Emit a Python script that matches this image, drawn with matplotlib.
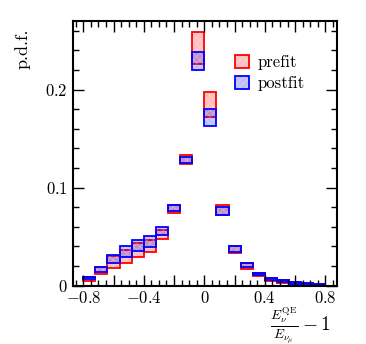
import numpy as np
import matplotlib
matplotlib.use("Agg")
import matplotlib.pyplot as plt
from matplotlib.ticker import MultipleLocator, FuncFormatter

plt.rcParams["font.family"] = "serif"
plt.rcParams["font.serif"] = ["cmr10", "DejaVu Serif"]
plt.rcParams["mathtext.fontset"] = "cm"
plt.rcParams["axes.unicode_minus"] = False
plt.rcParams["hatch.linewidth"] = 0.5

# bin centres of E_QE/E - 1 (bin width 0.08)
centers = [-0.76, -0.68, -0.60, -0.52, -0.44, -0.36, -0.28, -0.20, -0.12, -0.04,
           0.04, 0.12, 0.20, 0.28, 0.36, 0.44, 0.52, 0.60, 0.68, 0.76]
# band low / high edges
prefit_lo = [0.005, 0.0118, 0.0176, 0.0233, 0.0289, 0.0346, 0.0473, 0.074, 0.124, 0.226,
             0.172, 0.0715, 0.033, 0.0172, 0.0097, 0.005, 0.003, 0.0015, 0.001, 0.0005]
prefit_hi = [0.009, 0.0192, 0.0302, 0.0363, 0.0432, 0.0466, 0.0568, 0.0817, 0.133, 0.259,
             0.198, 0.082, 0.040, 0.0227, 0.013, 0.008, 0.0056, 0.0036, 0.0025, 0.0015]
postfit_lo = [0.0065, 0.0141, 0.0227, 0.0295, 0.0356, 0.0397, 0.0517, 0.0757, 0.125, 0.220,
              0.163, 0.0720, 0.0346, 0.0185, 0.0105, 0.0055, 0.0035, 0.0018, 0.0012, 0.0006]
postfit_hi = [0.009, 0.0192, 0.0312, 0.0404, 0.0466, 0.0507, 0.0596, 0.0817, 0.131, 0.238,
              0.180, 0.080, 0.040, 0.0227, 0.013, 0.0078, 0.0054, 0.0034, 0.0023, 0.0014]
width = 0.08

fig = plt.figure(figsize=(3.66, 3.44), dpi=100)
ax = fig.add_axes([0.1986, 0.17, 0.7214, 0.769])


def band(lo, hi, color):
    lo = np.array(lo)
    hi = np.array(hi)
    fill = ax.bar(centers, hi - lo, bottom=lo, width=width, color=color, alpha=0.25,
                  edgecolor="white", hatch="xxxxx", linewidth=0)
    edge = ax.bar(centers, hi - lo, bottom=lo, width=width, fill=False,
                  edgecolor=color, linewidth=1.3)
    return (fill[0], edge[0])


h_pre = band(prefit_lo, prefit_hi, "#ff0000")
h_post = band(postfit_lo, postfit_hi, "#0000ff")

ax.set_xlim(-0.87, 0.875)
ax.set_ylim(0, 0.27)

ax.xaxis.set_major_locator(MultipleLocator(0.2))
ax.xaxis.set_minor_locator(MultipleLocator(0.05))
ax.yaxis.set_major_locator(MultipleLocator(0.1))
ax.yaxis.set_minor_locator(MultipleLocator(0.02))


def xfmt(v, pos):
    k = int(round(v / 0.2))
    if k % 2:
        return ""
    return "$%g$" % round(v, 2)


def yfmt(v, pos):
    return "$%g$" % round(v, 2)


ax.xaxis.set_major_formatter(FuncFormatter(xfmt))
ax.yaxis.set_major_formatter(FuncFormatter(yfmt))
ax.tick_params(which="both", direction="in", top=True, right=True, labelsize=12, width=1)
ax.tick_params(which="major", length=8)
ax.tick_params(which="minor", length=4)
for s in ax.spines.values():
    s.set_linewidth(1.5)

fig.text(0.063, 0.918, "p.d.f.", rotation=90, ha="center", va="top", fontsize=13)
fig.text(0.905, 0.055, r"$\frac{E_{\nu}^{\mathrm{QE}}}{E_{\nu_{\mu}}}-1$", ha="right", va="center",
         fontsize=14)

ax.legend([h_pre, h_post], ["prefit", "postfit"], frameon=False, fontsize=12,
          loc="upper left", bbox_to_anchor=(0.62, 0.865), bbox_transform=fig.transFigure,
          handlelength=0.85, handleheight=0.85, handletextpad=0.5, labelspacing=0.35,
          borderpad=0)

fig.savefig("out.png", dpi=100)
